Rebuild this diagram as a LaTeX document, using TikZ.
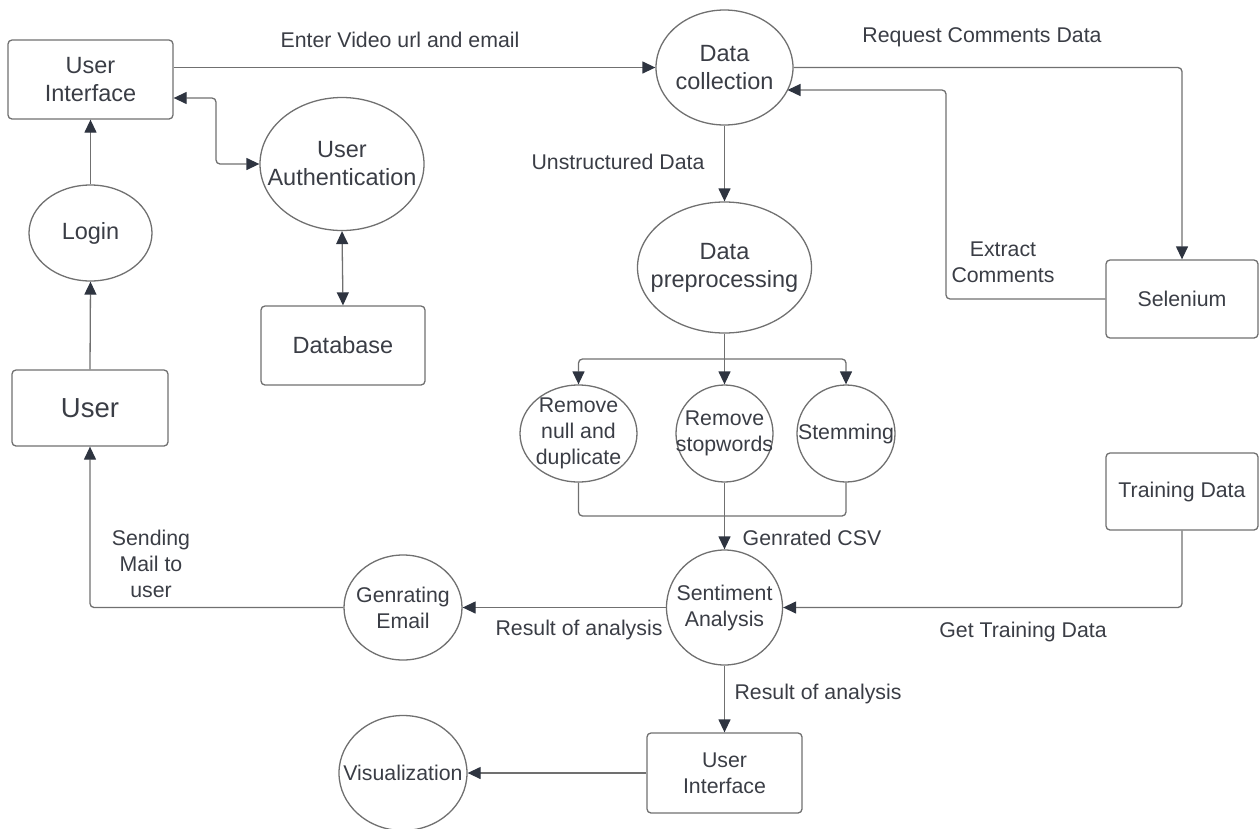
\documentclass[tikz,border=0pt]{standalone}
\usepackage{fontspec}
\setmainfont{Liberation Sans}
\usetikzlibrary{arrows.meta,shapes.geometric}
\definecolor{ln}{HTML}{707070}
\definecolor{tx}{HTML}{3A3D45}
\definecolor{tip}{HTML}{2E3440}
\begin{document}
\begin{tikzpicture}[x=1pt,y=-1pt,
  big/.style={font=\fontsize{23.5}{28}\selectfont},
  sml/.style={font=\fontsize{21.3}{26}\selectfont},
  box/.style={draw=ln,line width=1.3pt,rounded corners=4pt,inner sep=0pt,text=tx,align=center},
  ell/.style={draw=ln,line width=1.3pt,ellipse,inner sep=0pt},
  txt/.style={text=tx,align=center,inner sep=0pt},
  arr/.style={draw=ln,line width=1.3pt,rounded corners=4pt,-{Triangle[length=13pt,width=12pt,color=tip,fill=tip]}},
  darr/.style={draw=ln,line width=1.3pt,rounded corners=4pt,{Triangle[length=13pt,width=12pt,color=tip,fill=tip]}-{Triangle[length=13pt,width=12pt,color=tip,fill=tip]}},
  plain/.style={draw=ln,line width=1.3pt,rounded corners=4pt},
  lbl/.style={txt,sml}
]
\useasboundingbox (0,0) rectangle (1259,828);

% nodes
\node[box,big,minimum width=165,minimum height=79] (ui1) at (90.5,79.5) {User\\Interface};
\node[ell,minimum width=123,minimum height=96,label={[txt,big]center:Login}] (login) at (90.5,233) {};
\node[box,font=\fontsize{27.5}{32}\selectfont,minimum width=156,minimum height=76] (user) at (90,408) {User};
\node[ell,minimum width=164,minimum height=133,label={[txt,big]center:User\\Authentication}] (auth) at (342,164) {};
\node[box,big,minimum width=164,minimum height=79] (db) at (343,345.5) {Database};
\node[ell,minimum width=137,minimum height=115,label={[txt,big]center:Data\\collection}] (dc) at (724.5,67.5) {};
\node[box,sml,minimum width=152,minimum height=78] (sel) at (1182,299) {Selenium};
\node[ell,minimum width=174,minimum height=131,label={[txt,big]center:Data\\preprocessing}] (dp) at (724.5,267.5) {};
\node[ell,minimum width=117,minimum height=97,label={[txt,sml]center:Remove\\null and\\duplicate}] (rn) at (578.5,433.5) {};
\node[ell,minimum width=97,minimum height=97,label={[txt,sml]center:Remove\\stopwords}] (rs) at (724.5,433.5) {};
\node[ell,minimum width=98,minimum height=97,label={[txt,sml]center:Stemming}] (st) at (846,433.5) {};
\node[ell,minimum width=116,minimum height=115,label={[txt,sml]center:Sentiment\\Analysis}] (sa) at (724.5,607.5) {};
\node[box,sml,minimum width=152,minimum height=77] (td) at (1182,491.5) {Training Data};
\node[ell,minimum width=118,minimum height=105,label={[txt,sml]center:Genrating\\Email}] (ge) at (403,607.5) {};
\node[box,sml,minimum width=155,minimum height=80] (ui2) at (724.5,773) {User\\Interface};
\node[ell,minimum width=128,minimum height=115,label={[txt,sml]center:Visualization}] (vis) at (403,773) {};

% helper coordinates
\coordinate (ec) at (946,90);
\coordinate (dcin) at (787.5,90);
\coordinate (br) at (724.5,359);
\coordinate (mg) at (724.5,516);
\coordinate (ua) at (216,98);

% connectors
\draw[arr] (ui1.east |- dc.west) -- (dc.west);
\draw[darr] (ui1.east |- ua) -- (ua) |- (auth.west);
\draw[darr] (auth.south) -- (db.north);
\draw[arr] (login.north) -- (ui1.south);
\draw[arr] (user.north) -- (login.south);
\draw[arr] (dc.east) -| (sel.north);
\draw[arr] (sel.west) -| (ec) -- (dcin);
\draw[arr] (dc.south) -- (dp.north);
\draw[plain] (dp.south) -- (br);
\draw[arr] (br) -| (rn.north);
\draw[arr] (br) -- (rs.north);
\draw[arr] (br) -| (st.north);
\draw[plain] (rn.south) |- (mg);
\draw[plain] (st.south) |- (mg);
\draw[plain] (rs.south) -- (mg);
\draw[arr] (mg) -- (sa.north);
\draw[arr] (td.south) |- (sa.east);
\draw[arr] (sa.west) -- (ge.east);
\draw[arr] (ge.west) -| (user.south);
\draw[arr] (sa.south) -- (ui2.north);
\draw[arr] (ui2.west) -- (vis.east);

% labels
\node[lbl] (l1) at (400,40) {Enter Video url and email};
\node[lbl] (l2) at (982,37) {Request Comments Data};
\node[lbl] (l3) at (618,162) {Unstructured Data};
\node[lbl] (l4) at (1003,262) {Extract\\Comments};
\node[lbl] (l5) at (812,538) {Genrated CSV};
\node[lbl] (l6) at (1023,632) {Get Training Data};
\node[lbl] (l7) at (579,630) {Result of analysis};
\node[lbl] (l8) at (818,694) {Result of analysis};
\node[lbl] (l9) at (151,564) {Sending\\Mail to\\user};
\end{tikzpicture}
\end{document}
